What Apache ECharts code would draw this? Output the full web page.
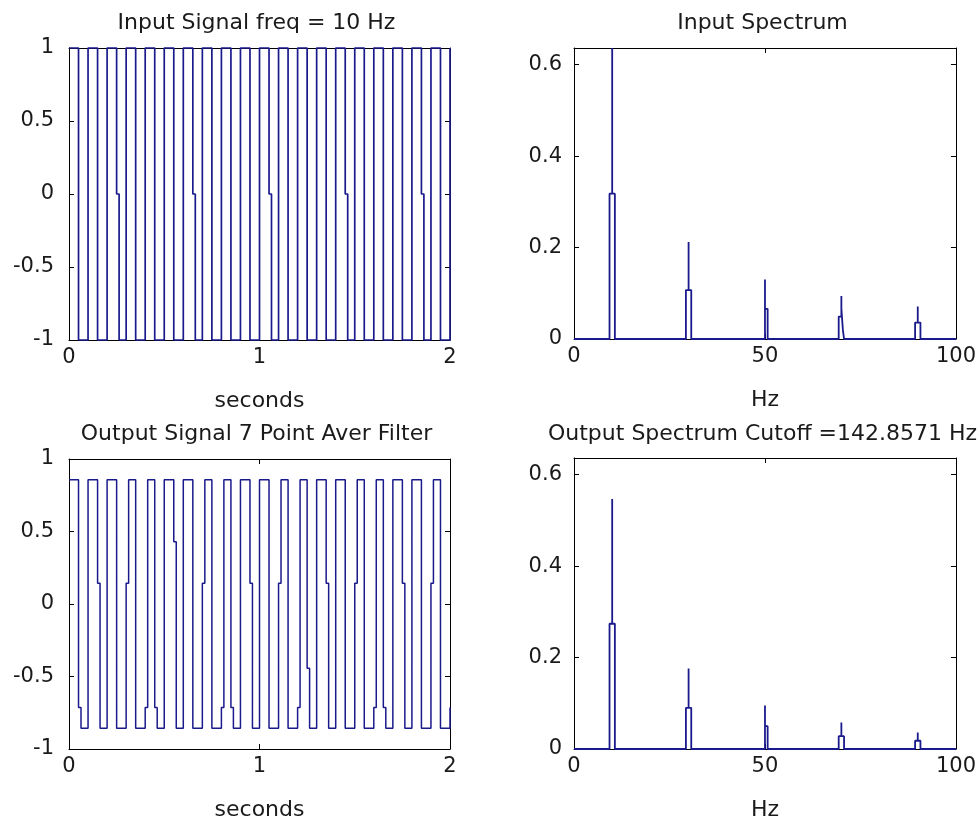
<!DOCTYPE html>
<html>
<head>
<meta charset="utf-8">
<script src="https://cdn.jsdelivr.net/npm/echarts@6/dist/echarts.min.js"></script>
<style>html,body{margin:0;padding:0;background:#fff}#c{width:979px;height:822px}</style>
</head>
<body>
<div id="c"></div>
<script>
// ---------- data ----------
const titles = ['Input Signal freq = 10 Hz', 'Input Spectrum', 'Output Signal 7 Point Aver Filter', 'Output Spectrum Cutoff =142.8571 Hz'];
const timeTicks = [0, 1, 2];
const signalTicks = [-1, -0.5, 0, 0.5, 1];
const hzTicks = [0, 50, 100];
const spectrumTicks = [0, 0.2, 0.4, 0.6];

// transition times of the square waves (s)
const edgeTimes = [0.05,0.10,0.15,0.20,0.25,0.30,0.35,0.40,0.45,0.50,0.55,0.60,0.65,0.70,0.75,0.80,0.85,0.90,0.95,1.00,
                   1.05,1.10,1.15,1.20,1.25,1.30,1.35,1.40,1.45,1.50,1.55,1.60,1.65,1.70,1.75,1.80,1.85,1.90,1.95];
// plateau levels of the input (40 half periods)
const inputLevels = [1,-1,1,-1,1,-1,1,-1,1,-1,1,-1,1,-1,1,-1,1,-1,1,-1,1,-1,1,-1,1,-1,1,-1,1,-1,1,-1,1,-1,1,-1,1,-1,1,-1];
const inputZeroStepTimes = [0.25,0.65,1.05,1.45,1.85];
const inputZeroStepValues = [0,0,0,0,0];
const inputEndValue = 1;
// plateau levels of the filtered output
const outputLevels = [0.857,-0.857,0.857,-0.857,0.857,-0.857,0.857,-0.857,0.857,-0.857,0.857,-0.857,0.857,-0.857,0.857,-0.857,0.857,-0.857,0.857,-0.857,
                      0.857,-0.857,0.857,-0.857,0.857,-0.857,0.857,-0.857,0.857,-0.857,0.857,-0.857,0.857,-0.857,0.857,-0.857,0.857,-0.857,0.857,-0.857];
const outputKinkTimes  = [0.05,0.15,0.30,0.40,0.45,0.55,0.70,0.80,0.85,0.95,1.10,1.20,1.25,1.35,1.50,1.60,1.65,1.75,1.90];
const outputKinkValues = [-0.714,0.143,0.143,-0.714,-0.714,0.429,0.143,-0.714,-0.714,0.143,0.143,-0.714,-0.443,0.143,0.143,-0.714,-0.714,0.143,0.143];
const outputEndValue = -0.714;

// spectrum peaks (Hz, magnitude)
const peakHz = [10, 30, 50, 70, 90];
const inputPeak          = [0.6366, 0.212, 0.130, 0.094, 0.071];
const inputLeftShoulder  = [0.318, 0.107, 0, 0.049, 0.036];
const inputRightShoulder = [0.318, 0.107, 0.066, 0.067, 0.036];
const inputOuterRight    = [0, 0, 0, 0.021, 0];
const outputPeak          = [0.547, 0.176, 0.095, 0.058, 0.036];
const outputLeftShoulder  = [0.274, 0.090, 0, 0.028, 0.018];
const outputRightShoulder = [0.274, 0.090, 0.050, 0.028, 0.018];
const outputOuterRight    = [0, 0, 0, 0, 0];
const spectrumMax = 0.6366;

// ---------- build line vertices ----------
const KINK_W = 0.013;
function squareWave(levels, kinkT, kinkV, endV) {
  const pts = [[0, levels[0]]];
  edgeTimes.forEach((t, i) => {
    const a = levels[i], b = levels[i + 1];
    pts.push([t, a]);
    const k = kinkT.findIndex(x => Math.abs(x - t) < 1e-9);
    if (k >= 0) { pts.push([t, kinkV[k]]); pts.push([t + KINK_W, kinkV[k]]); pts.push([t + KINK_W, b]); }
    else pts.push([t, b]);
  });
  pts.push([2, levels[levels.length - 1]]);
  pts.push([2, endV]);
  return pts;
}
function spectrum(P, L, R, O) {
  const pts = [[0, 0]];
  const hw = 0.7;
  peakHz.forEach((f, i) => {
    pts.push([f - hw, 0]);
    pts.push([f - hw, L[i]]);
    pts.push([f, L[i]]);
    pts.push([f, P[i]]);
    pts.push([f, R[i]]);
    if (O[i] > 0) {
      pts.push([f + hw * 0.55, R[i]]);
      pts.push([f + hw * 0.55, O[i]]);
      pts.push([f + hw, O[i]]);
    } else pts.push([f + hw, R[i]]);
    pts.push([f + hw, 0]);
  });
  pts.push([100, 0]);
  return pts;
}
const inputSig = squareWave(inputLevels, inputZeroStepTimes, inputZeroStepValues, inputEndValue);
const outputSig = squareWave(outputLevels, outputKinkTimes, outputKinkValues, outputEndValue);
const inputSpec = spectrum(inputPeak, inputLeftShoulder, inputRightShoulder, inputOuterRight);
const outputSpec = spectrum(outputPeak, outputLeftShoulder, outputRightShoulder, outputOuterRight);

// ---------- chart ----------
const FONT = 'DejaVu Sans';
const TXT = '#1a1a1a';
const LINE = '#1a1a8c';
const grids = [
  {left: 69, top: 48, width: 381, height: 292},
  {left: 574, top: 48, width: 383, height: 291},
  {left: 69, top: 459, width: 381, height: 291},
  {left: 574, top: 458, width: 383, height: 291}
];
const xSpec = [
  {min: 0, max: 2, interval: 1, ticks: timeTicks, name: 'seconds'},
  {min: 0, max: 100, interval: 50, ticks: hzTicks, name: 'Hz'},
  {min: 0, max: 2, interval: 1, ticks: timeTicks, name: 'seconds'},
  {min: 0, max: 100, interval: 50, ticks: hzTicks, name: 'Hz'}
];
const ySpec = [
  {min: -1, max: 1, interval: 0.5, ticks: signalTicks, margin: 15},
  {min: 0, max: spectrumMax, interval: 0.2, ticks: spectrumTicks, margin: 12},
  {min: -1, max: 1, interval: 0.5, ticks: signalTicks, margin: 15},
  {min: 0, max: spectrumMax, interval: 0.2, ticks: spectrumTicks, margin: 12}
];
const fmt = ticks => v => ticks.some(t => Math.abs(t - v) < 1e-9) ? String(+v.toFixed(4)) : '';
const lineStyle = {color: '#000', width: 1};
const xAxis = [], yAxis = [];
grids.forEach((g, i) => {
  const xs = xSpec[i], ys = ySpec[i];
  xAxis.push({type: 'value', gridIndex: i, min: xs.min, max: xs.max, interval: xs.interval, position: 'bottom',
    axisLine: {show: true, onZero: false, lineStyle}, axisTick: {inside: true, length: 5, lineStyle},
    axisLabel: {fontFamily: FONT, fontSize: 21, color: TXT, margin: 7, formatter: fmt(xs.ticks)},
    splitLine: {show: false}, name: xs.name, nameLocation: 'middle', nameGap: 50,
    nameTextStyle: {fontFamily: FONT, fontSize: 22, color: TXT}});
  xAxis.push({type: 'value', gridIndex: i, min: xs.min, max: xs.max, interval: xs.interval, position: 'top',
    axisLine: {show: true, onZero: false, lineStyle}, axisTick: {inside: true, length: 5, lineStyle},
    axisLabel: {show: false}, splitLine: {show: false}});
  yAxis.push({type: 'value', gridIndex: i, min: ys.min, max: ys.max, interval: ys.interval, position: 'left',
    axisLine: {show: true, onZero: false, lineStyle}, axisTick: {inside: true, length: 5, lineStyle},
    axisLabel: {fontFamily: FONT, fontSize: 21, color: TXT, margin: ys.margin, formatter: fmt(ys.ticks), showMaxLabel: ys.max === 1},
    splitLine: {show: false}});
  yAxis.push({type: 'value', gridIndex: i, min: ys.min, max: ys.max, interval: ys.interval, position: 'right',
    axisLine: {show: true, onZero: false, lineStyle}, axisTick: {inside: true, length: 5, lineStyle},
    axisLabel: {show: false}, splitLine: {show: false}});
});
const datas = [inputSig, inputSpec, outputSig, outputSpec];
const series = datas.map((d, i) => ({
  type: 'line', xAxisIndex: i * 2, yAxisIndex: i * 2, data: d, showSymbol: false, symbol: 'none',
  clip: false, lineStyle: {color: LINE, width: i === 0 ? 1.7 : (i % 2 ? 1.8 : 1.5)}, animation: false, silent: true, z: 3
}));
const graphic = grids.map((g, i) => ({
  type: 'text', z: 10,
  style: {text: titles[i], x: g.left + g.width / 2 - 3, y: i < 2 ? 12 : 423, textAlign: 'center', textVerticalAlign: 'top',
    font: '22px "' + FONT + '"', fill: TXT}
}));
const chart = echarts.init(document.getElementById('c'), null, {renderer: 'canvas'});
chart.setOption({backgroundColor: '#fff', animation: false, grid: grids, xAxis, yAxis, series, graphic});
</script>
</body>
</html>
